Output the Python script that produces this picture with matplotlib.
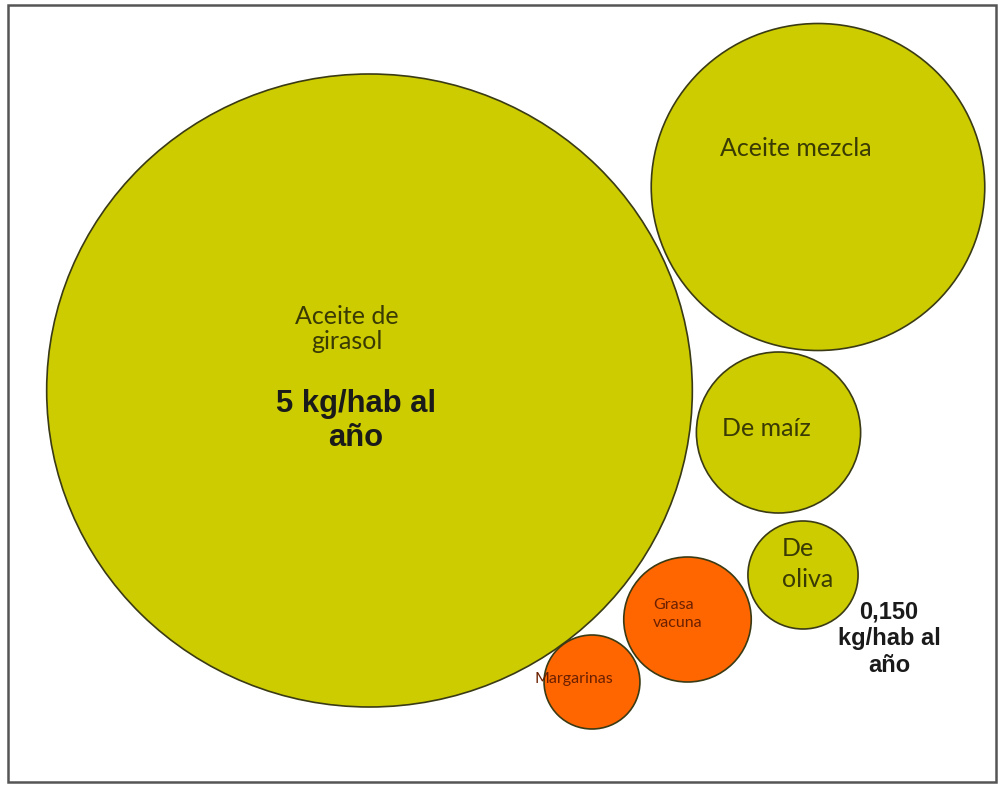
import matplotlib
matplotlib.use("Agg")
import matplotlib.pyplot as plt
from matplotlib.patches import Ellipse, Rectangle

# Bubble data (pixel-space positions, radius = vertical radius)
categories = ["Aceite de girasol", "Aceite mezcla", "De maíz", "De oliva", "Grasa vacuna", "Margarinas"]
cx = [369.5, 818, 778.5, 803, 687.5, 592]
cy = [390.5, 187, 432.5, 575, 619.5, 682]
radius = [316.5, 163.5, 80.5, 54, 62.5, 47]
kinds = ["oil", "oil", "oil", "oil", "fat", "fat"]

# labels
label_text = ["Aceite de\ngirasol", "Aceite mezcla", "De maíz", "De\noliva", "Grasa\nvacuna", "Margarinas"]
label_x = [347, 796, 766, 782, 653, 574]
label_y = [329, 148, 428, 564, 614, 679]
label_size = [18, 18, 18, 18, 11.5, 11.5]
label_ha = ["center", "center", "center", "left", "left", "center"]
label_ls = [1.1, 1.1, 1.1, 1.4, 1.35, 1.1]

value_text = ["5 kg/hab al\naño", "0,150\nkg/hab al\naño"]
value_x = [356, 889]
value_y = [421, 639]
value_size = [22.3, 17]

STRETCH = 1.02
fill = {"oil": "#cccc00", "fat": "#ff6600"}
txtcol = {"oil": "#3a3a05", "fat": "#6a2000"}

fig = plt.figure(figsize=(10.03, 7.87), dpi=100)
ax = fig.add_axes([0, 0, 1, 1])
ax.set_xlim(0, 1003)
ax.set_ylim(787, 0)
ax.axis("off")

# frame
ax.add_patch(Rectangle((8, 5), 988, 777, fill=False, edgecolor="#555555", lw=1.8, zorder=0))

for x, y, r, k in zip(cx, cy, radius, kinds):
    ax.add_patch(Ellipse((x, y), 2 * r * STRETCH, 2 * r, facecolor=fill[k],
                         edgecolor="#3a3a14", lw=1.2, zorder=2))

for t, x, y, s, ha, k, ls in zip(label_text, label_x, label_y, label_size, label_ha, kinds, label_ls):
    ax.text(x, y, t, ha=ha, va="center", fontsize=s, family="Lato",
            color=txtcol[k], multialignment=ha, linespacing=ls, zorder=3)

for t, x, y, s in zip(value_text, value_x, value_y, value_size):
    ax.text(x, y, t, ha="center", va="center", fontsize=s, family="Liberation Sans",
            fontweight="bold", color="#1a1a1a", linespacing=1.2, zorder=3)

fig.savefig("out.png", dpi=100, facecolor="white")
